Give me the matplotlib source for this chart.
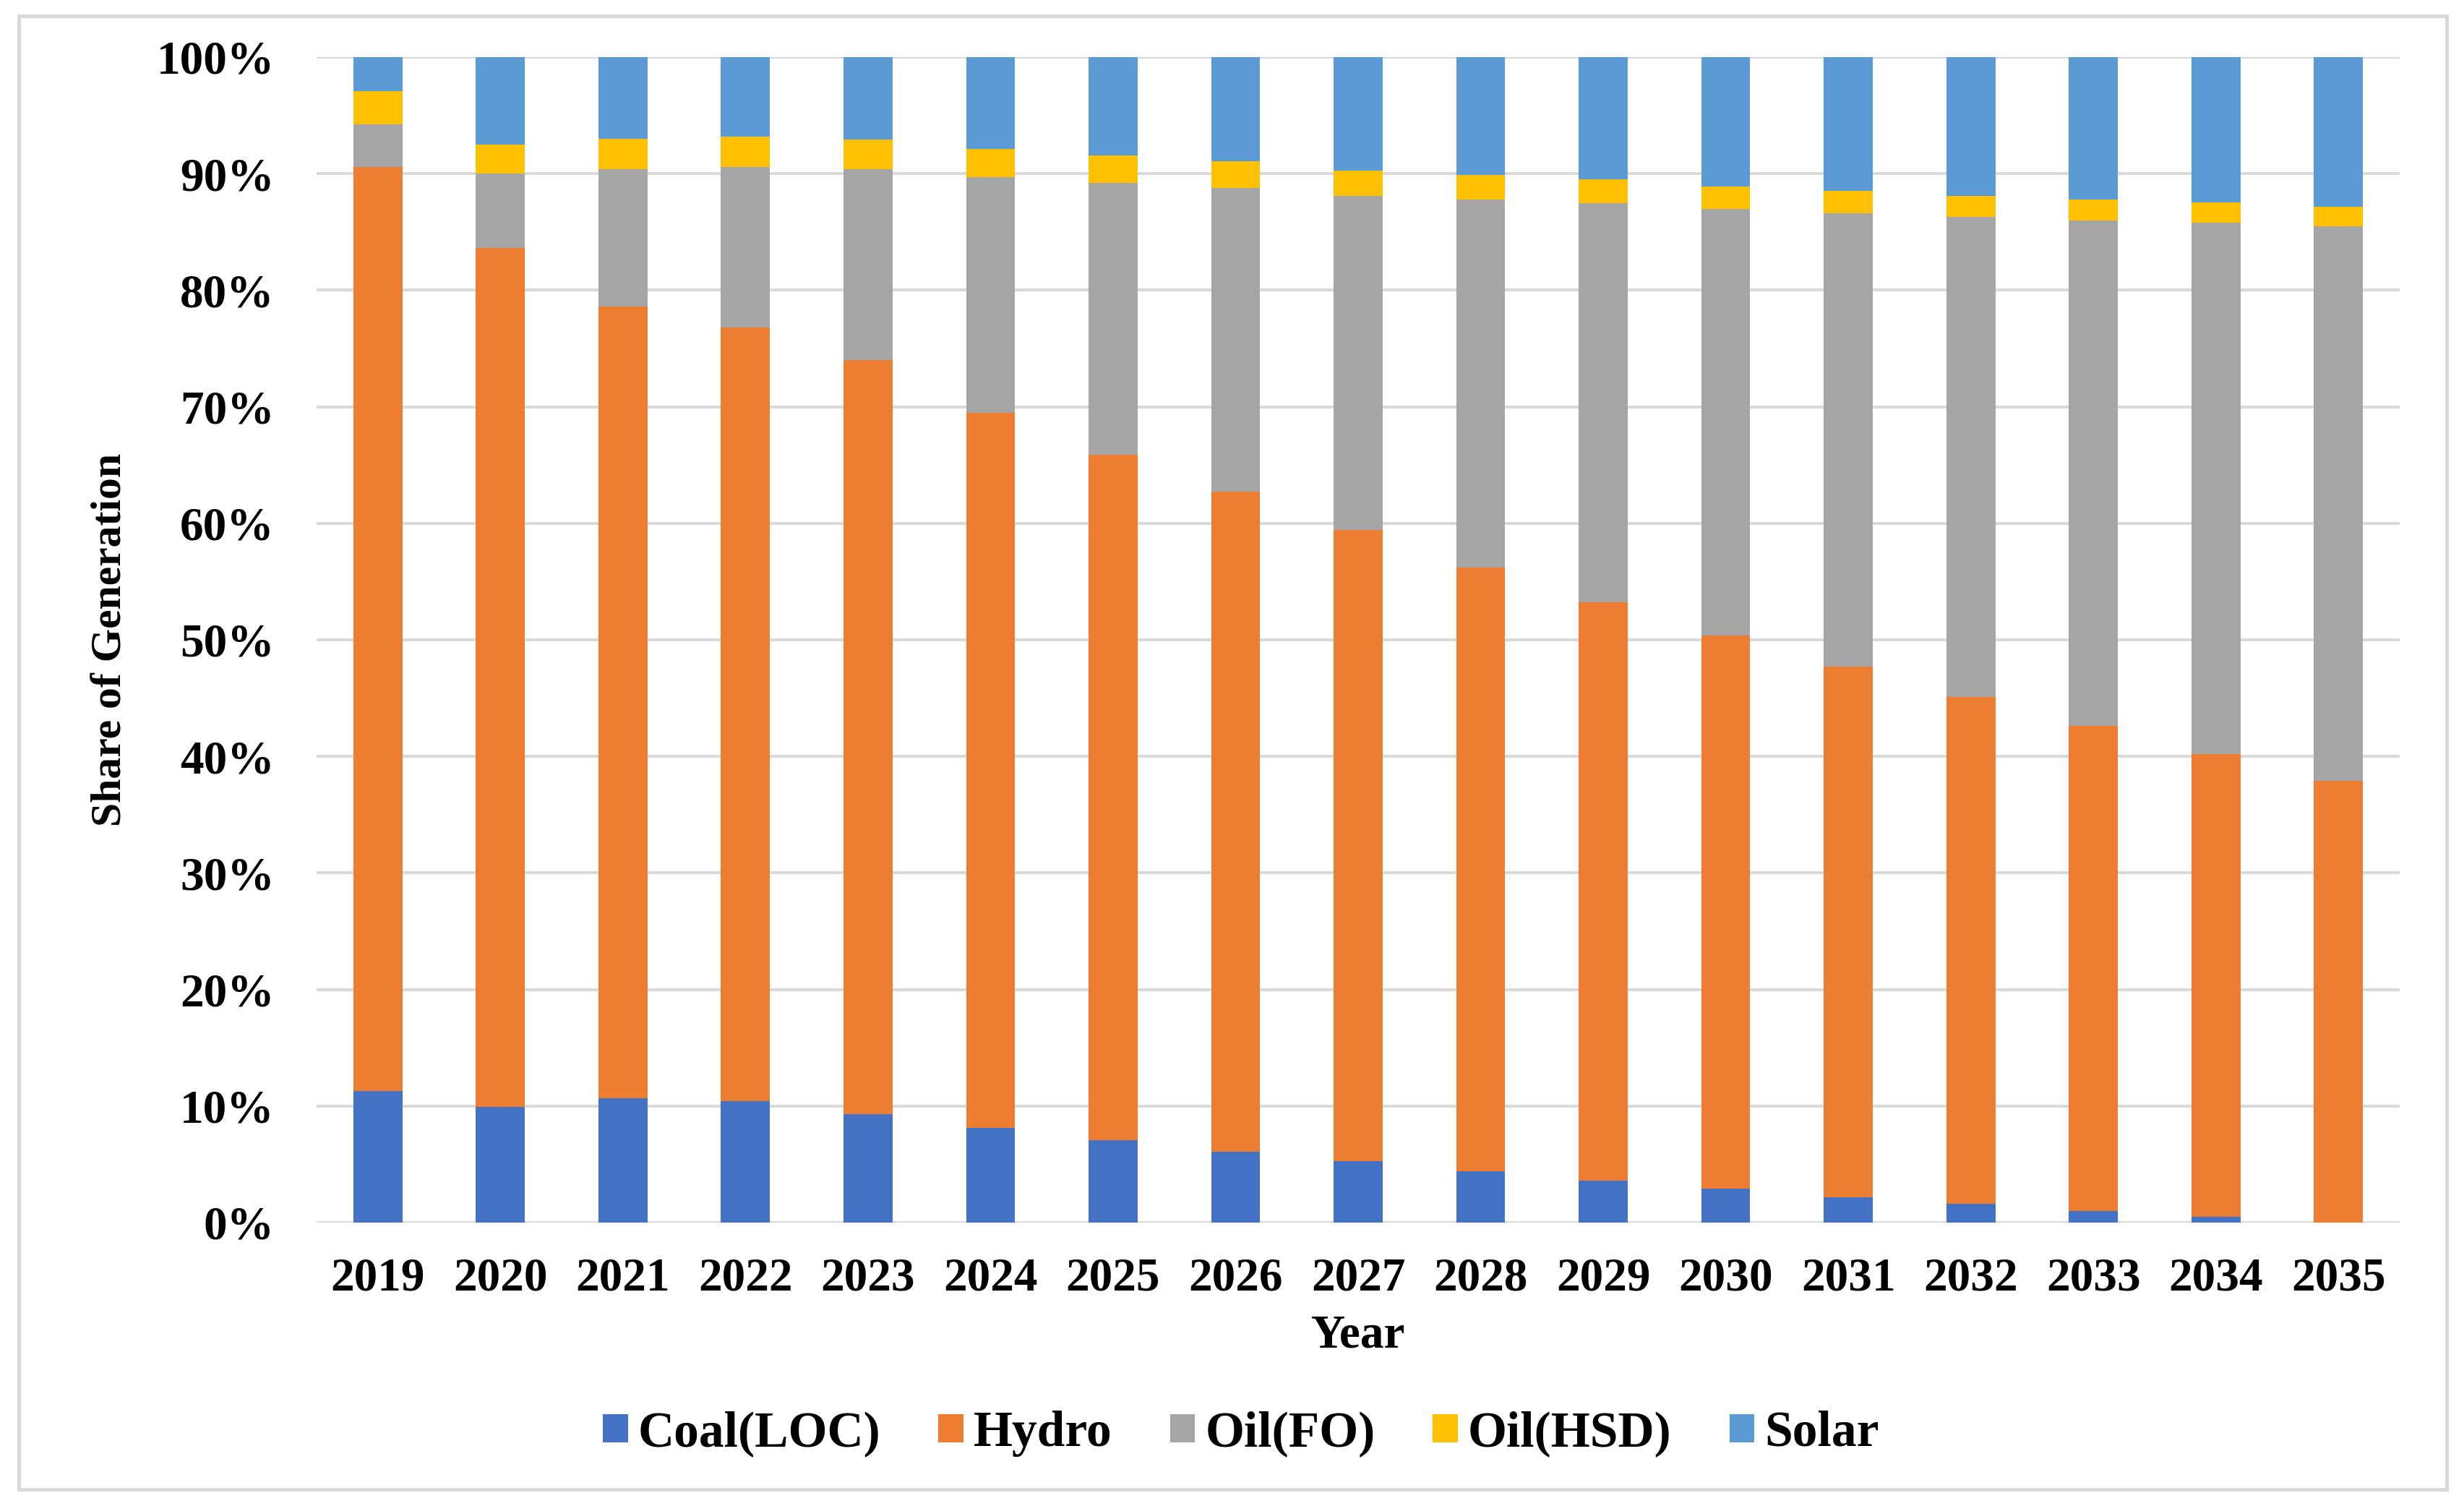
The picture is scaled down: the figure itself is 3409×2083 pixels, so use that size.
import numpy as np
import matplotlib
matplotlib.use('Agg')
import matplotlib.pyplot as plt
from matplotlib.patches import Rectangle
from matplotlib.ticker import FuncFormatter

# Share of generation by source, in percent
years = ['2019', '2020', '2021', '2022', '2023', '2024', '2025', '2026', '2027',
         '2028', '2029', '2030', '2031', '2032', '2033', '2034', '2035']
coal = [11.3, 9.9, 10.7, 10.4, 9.3, 8.1, 7.1, 6.1, 5.3, 4.4, 3.6, 2.9, 2.2, 1.6, 1.0, 0.5, 0.0]
hydro = [79.3, 73.7, 67.9, 66.4, 64.7, 61.4, 58.8, 56.6, 54.1, 51.8, 49.6, 47.5, 45.5, 43.5, 41.6, 39.7, 37.9]
oil_fo = [3.6, 6.4, 11.8, 13.8, 16.4, 20.2, 23.3, 26.1, 28.7, 31.6, 34.3, 36.6, 38.9, 41.2, 43.4, 45.6, 47.6]
oil_hsd = [2.9, 2.5, 2.6, 2.6, 2.5, 2.4, 2.35, 2.25, 2.15, 2.1, 2.0, 1.9, 1.9, 1.8, 1.8, 1.7, 1.65]
solar = [2.9, 7.5, 7.0, 6.8, 7.1, 7.9, 8.45, 8.95, 9.75, 10.1, 10.5, 11.1, 11.5, 11.9, 12.2, 12.5, 12.85]

series = [('Coal(LOC)', coal, '#4472C4'),
          ('Hydro', hydro, '#ED7D31'),
          ('Oil(FO)', oil_fo, '#A5A5A5'),
          ('Oil(HSD)', oil_hsd, '#FFC000'),
          ('Solar', solar, '#5B9BD5')]

plt.rcParams['font.family'] = ['Liberation Serif', 'DejaVu Serif']
plt.rcParams['font.weight'] = 'bold'

W, H = 3409, 2083
fig = plt.figure(figsize=(W / 100, H / 100), dpi=100)
ax = fig.add_axes([438 / W, 1 - 1691 / H, (3320 - 438) / W, (1691 - 79) / H])

x = np.arange(len(years))
bottom = np.zeros(len(years))
for name, vals, col in series:
    vals = np.array(vals)
    ax.bar(x, vals, 0.4, bottom=bottom, color=col, label=name, zorder=3)
    bottom += vals

ax.set_xlim(-0.5, len(years) - 0.5)
ax.set_ylim(0, 100)
ax.set_yticks(np.arange(0, 101, 10))
ax.yaxis.set_major_formatter(FuncFormatter(lambda v, p: '%d%%' % v))
ax.set_xticks(x)
ax.set_xticklabels(years)
ax.grid(axis='y', color='#D9D9D9', linewidth=2.9, zorder=0)
for s in ax.spines.values():
    s.set_visible(False)
ax.tick_params(axis='both', length=0, labelsize=47)
ax.tick_params(axis='y', pad=42)
ax.tick_params(axis='x', pad=34)
for lab in ax.get_xticklabels() + ax.get_yticklabels():
    lab.set_fontweight('bold')

ax.set_xlabel('Year', fontsize=47, fontweight='bold', labelpad=14)
ax.set_ylabel('Share of Generation', fontsize=43, fontweight='bold', labelpad=26)

fig.legend(loc='center', bbox_to_anchor=(1717 / W, 1 - 1983 / H), ncol=5, frameon=False,
           prop={'size': 50, 'weight': 'bold'}, handlelength=0.5, handleheight=0.5,
           handletextpad=0.2, columnspacing=1.15)

# chart border
fig.patches.append(Rectangle((26 / W, 1 - 2060 / H), (3385 - 26) / W, (2060 - 22) / H,
                             transform=fig.transFigure, fill=False,
                             edgecolor='#D9D9D9', linewidth=3.6))

fig.savefig('out.png', dpi=100)
